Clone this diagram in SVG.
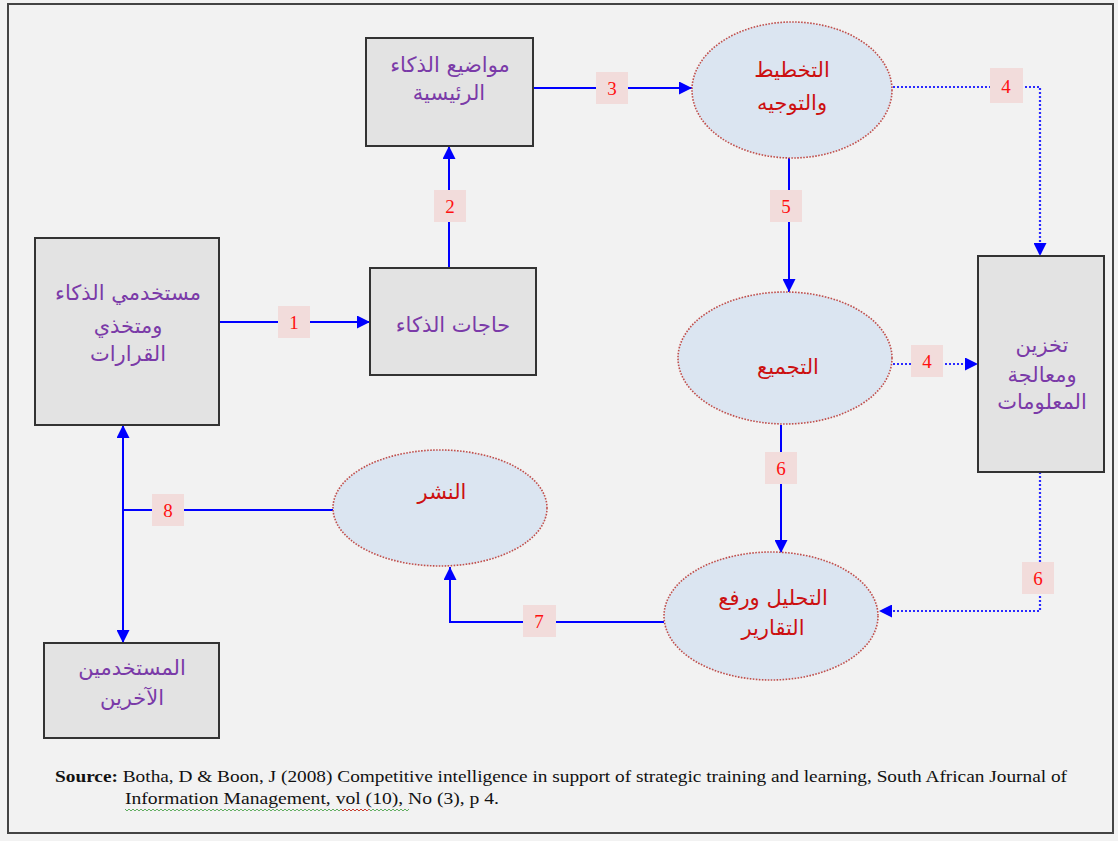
<svg xmlns="http://www.w3.org/2000/svg" width="1118" height="841" viewBox="0 0 1118 841">
<style>
.bg{fill:#f2f2f2}
.frame{fill:none;stroke:#444;stroke-width:2}
.box{fill:#e3e3e3;stroke:#333;stroke-width:2}
.ell{fill:#dbe5f1;stroke:#c0504d;stroke-width:1.6;stroke-dasharray:1.6 1.4}
.bt{font-family:"DejaVu Sans","Noto Sans",sans-serif;font-size:21px;fill:#7a3aa8;text-anchor:middle}
.et{font-family:"DejaVu Sans","Noto Sans",sans-serif;font-size:21px;fill:#cc1010;text-anchor:middle}
.ln{fill:none;stroke:#0000ff;stroke-width:2}
.dl{fill:none;stroke:#2a2aff;stroke-width:2.2;stroke-dasharray:2 2}
.lb{fill:#f2dcdb}
.lt{font-family:"Liberation Serif",serif;font-size:19px;fill:#ff1010;text-anchor:middle}
.src{font-family:"Liberation Serif",serif;font-size:16px;fill:#111}
</style>
<defs>
<marker id="ah" viewBox="0 0 12 12" markerWidth="13" markerHeight="13" markerUnits="userSpaceOnUse" refX="12" refY="6" orient="auto-start-reverse">
<path d="M0,0 L12,6 L0,12 z" fill="#0000ff"/>
</marker>
</defs>
<rect class="bg" x="0" y="0" width="1118" height="841"/>
<rect class="frame" x="8" y="4" width="1105" height="829"/>

<g id="connectors">
<path class="ln" d="M219,322 H370" marker-end="url(#ah)"/>
<path class="ln" d="M449,268 V146" marker-end="url(#ah)"/>
<path class="ln" d="M533,88 H692" marker-end="url(#ah)"/>
<path class="dl" d="M893,87 H1040 V256" marker-end="url(#ah)"/>
<path class="ln" d="M789,158 V292" marker-end="url(#ah)"/>
<path class="dl" d="M893,364 H978" marker-end="url(#ah)"/>
<path class="ln" d="M781,425 V553" marker-end="url(#ah)"/>
<path class="dl" d="M1040,472 V611 H879" marker-end="url(#ah)"/>
<path class="ln" d="M664,622 H450 V567" marker-end="url(#ah)"/>
<path class="ln" d="M333,510 H123"/>
<path class="ln" d="M123,425 V643" marker-start="url(#ah)" marker-end="url(#ah)"/>

<rect class="lb" x="278" y="306" width="32" height="32"/><text class="lt" x="294" y="329">1</text>
<rect class="lb" x="434" y="190" width="32" height="32"/><text class="lt" x="450" y="213">2</text>
<rect class="lb" x="596" y="72" width="32" height="32"/><text class="lt" x="612" y="95">3</text>
<rect class="lb" x="990" y="68" width="33" height="35"/><text class="lt" x="1006" y="93">4</text>
<rect class="lb" x="770" y="190" width="32" height="32"/><text class="lt" x="786" y="213">5</text>
<rect class="lb" x="911" y="345" width="32" height="32"/><text class="lt" x="927" y="368">4</text>
<rect class="lb" x="765" y="452" width="32" height="32"/><text class="lt" x="781" y="475">6</text>
<rect class="lb" x="1022" y="562" width="32" height="32"/><text class="lt" x="1038" y="585">6</text>
<rect class="lb" x="523" y="605" width="33" height="32"/><text class="lt" x="539" y="628">7</text>
<rect class="lb" x="152" y="494" width="32" height="32"/><text class="lt" x="168" y="517">8</text>
</g>

<g id="node-topics">
<rect class="box" x="366" y="38" width="167" height="108"/>
<text class="bt" x="450" y="72">مواضيع الذكاء</text>
<text class="bt" x="449" y="100">الرئيسية</text>
</g>

<g id="node-planning">
<ellipse class="ell" cx="792" cy="90" rx="100" ry="68"/>
<text class="et" x="792" y="77">التخطيط</text>
<text class="et" x="792" y="110">والتوجيه</text>
</g>

<g id="node-users">
<rect class="box" x="35" y="238" width="184" height="187"/>
<text class="bt" x="128" y="300">مستخدمي الذكاء</text>
<text class="bt" x="128" y="333">ومتخذي</text>
<text class="bt" x="128" y="361">القرارات</text>
</g>

<g id="node-needs">
<rect class="box" x="370" y="268" width="166" height="107"/>
<text class="bt" x="453" y="332">حاجات الذكاء</text>
</g>

<g id="node-collection">
<ellipse class="ell" cx="785" cy="358" rx="107" ry="66"/>
<text class="et" x="788" y="374">التجميع</text>
</g>

<g id="node-storage">
<rect class="box" x="978" y="256" width="126" height="216"/>
<text class="bt" x="1042" y="352">تخزين</text>
<text class="bt" x="1042" y="382">ومعالجة</text>
<text class="bt" x="1042" y="409">المعلومات</text>
</g>

<g id="node-dissemination">
<ellipse class="ell" cx="440" cy="508" rx="107" ry="58"/>
<text class="et" x="442" y="499">النشر</text>
</g>

<g id="node-analysis">
<ellipse class="ell" cx="771" cy="616" rx="107" ry="64"/>
<text class="et" x="773" y="605">التحليل ورفع</text>
<text class="et" x="773" y="635">التقارير</text>
</g>

<g id="node-others">
<rect class="box" x="44" y="643" width="175" height="95"/>
<text class="bt" x="132" y="675">المستخدمين</text>
<text class="bt" x="132" y="705">الآخرين</text>
</g>

<g id="source">
<text class="src" x="55" y="782" textLength="1012" lengthAdjust="spacingAndGlyphs"><tspan font-weight="bold">Source:</tspan> Botha, D &amp; Boon, J (2008) Competitive intelligence in support of strategic training and learning, South African Journal of</text>
<text class="src" x="125" y="804" textLength="374" lengthAdjust="spacingAndGlyphs">Information Management, vol (10), No (3), p 4.</text>
<path d="M125,809 l2,2 l2,-2 l2,2 l2,-2 l2,2 l2,-2 l2,2 l2,-2 l2,2 l2,-2 l2,2 l2,-2 l2,2 l2,-2 l2,2 l2,-2 l2,2 l2,-2 l2,2 l2,-2 l2,2 l2,-2 l2,2 l2,-2 l2,2 l2,-2 l2,2 l2,-2 l2,2 l2,-2 l2,2 l2,-2 l2,2 l2,-2 l2,2 l2,-2 l2,2 l2,-2 l2,2 l2,-2 l2,2 l2,-2 l2,2 l2,-2 l2,2 l2,-2 l2,2 l2,-2 l2,2 l2,-2 l2,2 l2,-2 l2,2 l2,-2 l2,2 l2,-2 l2,2 l2,-2 l2,2 l2,-2 l2,2 l2,-2 l2,2 l2,-2 l2,2 l2,-2 l2,2 l2,-2 l2,2 l2,-2 l2,2 l2,-2 l2,2 l2,-2 l2,2 l2,-2 l2,2 l2,-2 l2,2 l2,-2 l2,2 l2,-2 l2,2 l2,-2 l2,2 l2,-2 l2,2 l2,-2 l2,2 l2,-2 l2,2 l2,-2 l2,2 l2,-2 l2,2 l2,-2 l2,2 l2,-2 l2,2 l2,-2 l2,2 l2,-2 l2,2 l2,-2 l2,2 l2,-2 l2,2 l2,-2 l2,2 l2,-2 l2,2 l2,-2 l2,2 l2,-2 l2,2 l2,-2 l2,2 l2,-2 l2,2 l2,-2 l2,2" fill="none" stroke="#3a9a3a" stroke-width="0.8"/>
<path d="M341,809 l2,2 l2,-2 l2,2 l2,-2 l2,2 l2,-2 l2,2 l2,-2 l2,2 l2,-2 l2,2 l2,-2 l2,2 l2,-2" fill="none" stroke="#e02020" stroke-width="0.8"/>
<path d="M369,809 l2,2 l2,-2 l2,2 l2,-2 l2,2 l2,-2 l2,2 l2,-2 l2,2 l2,-2 l2,2 l2,-2 l2,2 l2,-2 l2,2 l2,-2 l2,2 l2,-2 l2,2 l2,-2" fill="none" stroke="#3a9a3a" stroke-width="0.8"/>
</g>
</svg>
